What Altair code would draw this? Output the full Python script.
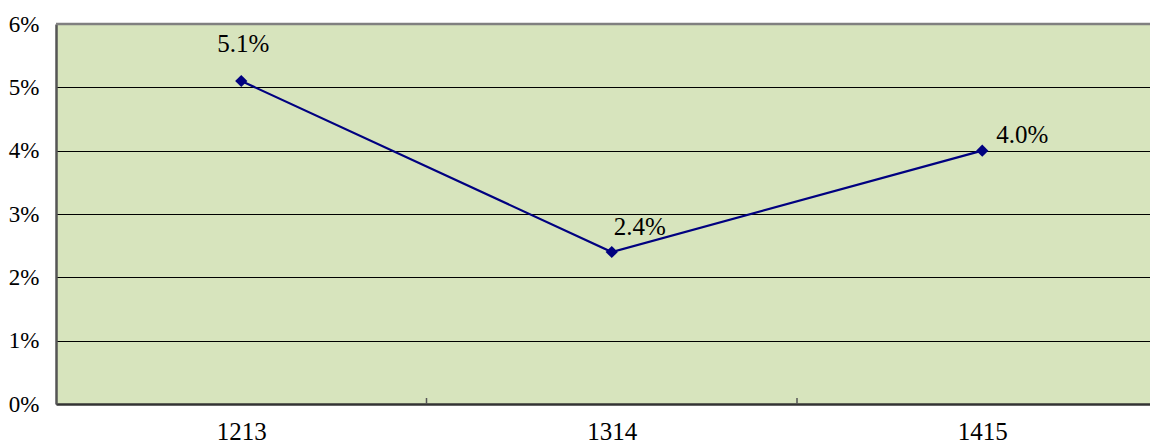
import altair as alt
import pandas as pd

categories = ["1213", "1314", "1415"]
values = [5.1, 2.4, 4.0]
labels = ["5.1%", "2.4%", "4.0%"]
y_ticks = [0, 1, 2, 3, 4, 5, 6]

df = pd.DataFrame({"idx": list(range(len(categories))), "cat": categories,
                   "value": values, "label": labels})
boundaries = pd.DataFrame({"b": [i + 0.5 for i in range(len(categories) - 1)]})

FONT = "Liberation Serif, DejaVu Serif, serif"
W, H = 1094, 380
xdom = [-0.5, -0.5 + W / 370.5]

label_expr = "[" + ",".join(f"'{c}'" for c in categories) + "][datum.value]"

xscale = alt.Scale(domain=xdom, nice=False, zero=False)
yscale = alt.Scale(domain=[0, 6], nice=False)

base = alt.Chart(df)

# inward ticks between categories
ticks_layer = alt.Chart(boundaries).mark_rule(color="#555555", strokeWidth=1.5).encode(
    x=alt.X("b:Q", scale=xscale),
    y=alt.value(H - 6), y2=alt.value(H),
)

line = base.mark_line(color="#000080", strokeWidth=2.2).encode(
    x=alt.X("idx:Q", scale=xscale,
            axis=alt.Axis(values=list(range(len(categories))), labelExpr=label_expr,
                          ticks=False, domainColor="#333333", domainWidth=2.5,
                          labelFont=FONT, labelFontSize=25, labelColor="black",
                          labelPadding=15, grid=False, title=None)),
    y=alt.Y("value:Q", scale=yscale,
            axis=alt.Axis(values=y_ticks, labelExpr="datum.value + '%'",
                          ticks=False, domainColor="#555555", domainWidth=2.5,
                          gridColor="black", gridWidth=1, gridOpacity=1,
                          labelFont=FONT, labelFontSize=23, labelColor="black",
                          labelPadding=17, title=None)),
)

points = base.mark_point(shape="diamond", filled=True, color="#000080",
                         size=150, opacity=1).encode(
    x=alt.X("idx:Q", scale=xscale), y=alt.Y("value:Q", scale=yscale))

top_border = alt.Chart(pd.DataFrame({"v": [6]})).mark_rule(
    color="#808080", strokeWidth=2.5).encode(y=alt.Y("v:Q", scale=yscale))

offsets = [(2, -37), (28, -25), (40, -16)]
text_layers = []
for i, (dx, dy) in enumerate(offsets):
    text_layers.append(
        base.transform_filter(alt.datum.idx == i).mark_text(
            font=FONT, fontSize=25, color="black", dx=dx, dy=dy,
            baseline="middle", align="center").encode(
            x=alt.X("idx:Q", scale=xscale), y=alt.Y("value:Q", scale=yscale),
            text="label:N"))

chart = alt.layer(line, ticks_layer, top_border, points, *text_layers).properties(
    width=W, height=H,
    autosize=alt.AutoSizeParams(type="none"),
    padding={"left": 48, "top": 16, "right": 0, "bottom": 41},
).configure_view(fill="#D7E4BD", stroke=None)

chart.save("out.html", embed_options={"renderer": "svg", "actions": False})
